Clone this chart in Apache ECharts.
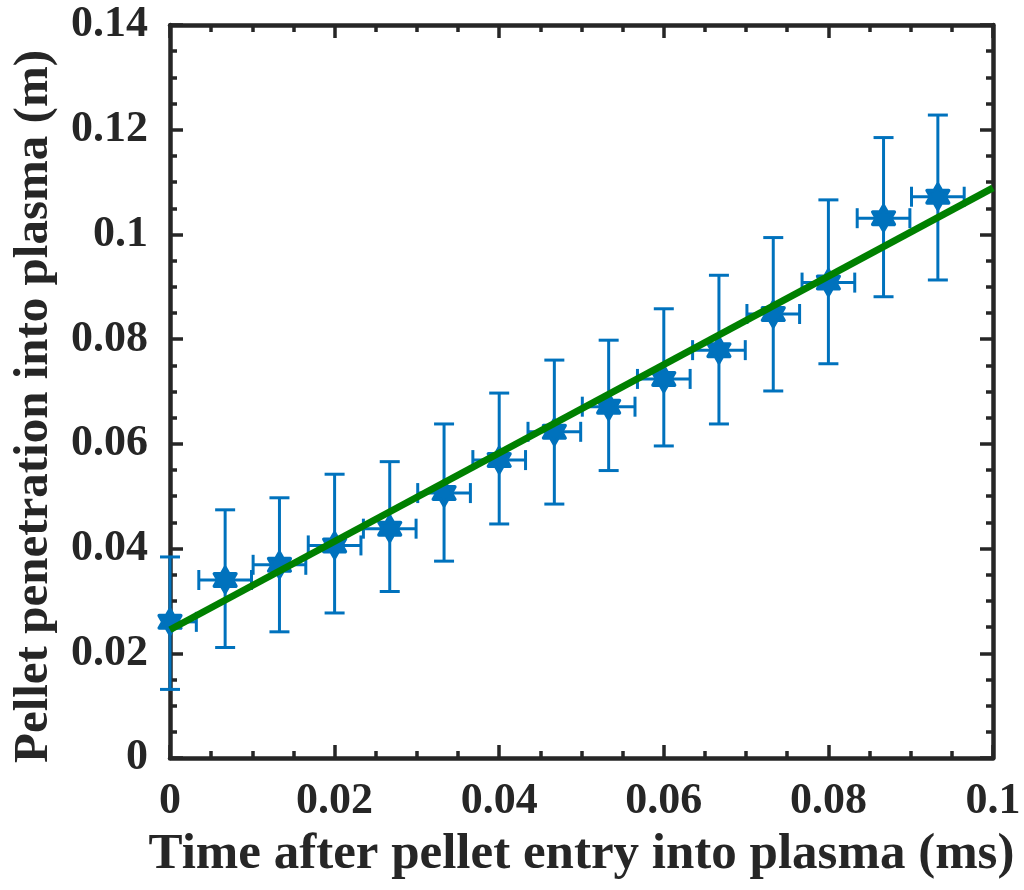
<!DOCTYPE html>
<html>
<head>
<meta charset="utf-8">
<script src="https://cdn.jsdelivr.net/npm/echarts@6/dist/echarts.min.js"></script>
<style>
html,body{margin:0;padding:0;background:#fff;}
#chart{width:1024px;height:890px;}
</style>
</head>
<body>
<div id="chart"></div>
<script>
// Time after pellet entry (ms)
const times = [0, 0.0067, 0.0133, 0.02, 0.0267, 0.0333, 0.04, 0.0467, 0.0533, 0.06, 0.0667, 0.0733, 0.08, 0.0867, 0.0933];
// Pellet penetration (m)
const penetration = [0.0260, 0.0340, 0.0369, 0.0406, 0.0438, 0.0506, 0.0569, 0.0623, 0.0671, 0.0724, 0.0779, 0.0848, 0.0908, 0.1031, 0.1072];
const penLower = [0.0131, 0.0211, 0.0241, 0.0277, 0.0318, 0.0376, 0.0447, 0.0485, 0.0549, 0.0596, 0.0638, 0.0701, 0.0753, 0.0881, 0.0913];
const penUpper = [0.0384, 0.0474, 0.0497, 0.0542, 0.0566, 0.0638, 0.0697, 0.0760, 0.0798, 0.0858, 0.0922, 0.0994, 0.1066, 0.1185, 0.1228];
const timeErr = [0.0032, 0.0032, 0.0032, 0.0032, 0.0032, 0.0032, 0.0032, 0.0032, 0.0032, 0.0032, 0.0032, 0.0032, 0.0032, 0.0032, 0.0032];
// Linear fit line endpoints
const fitX = [0, 0.1];
const fitY = [0.0245, 0.1089];
// Tick labels
const xTickValues = [0, 0.02, 0.04, 0.06, 0.08, 0.1];
const xTickLabels = ['0', '0.02', '0.04', '0.06', '0.08', '0.1'];
const yTickValues = [0, 0.02, 0.04, 0.06, 0.08, 0.1, 0.12, 0.14];
const yTickLabels = ['0', '0.02', '0.04', '0.06', '0.08', '0.1', '0.12', '0.14'];

const xTitle = 'Time after pellet entry into plasma (ms)';
const yTitle = 'Pellet penetration into plasma (m)';

function lookup(vals, labels, v) {
  for (let i = 0; i < vals.length; i++) if (Math.abs(vals[i] - v) < 1e-9) return labels[i];
  return '';
}

const FONT = '"Liberation Serif", "Times New Roman", serif';
const AX = '#262626';
const BLUE = '#0072BD';
const HEX = 'path://M100 0 L128.87 50 L186.6 50 L157.7 100 L186.6 150 L128.87 150 L100 200 L71.13 150 L13.4 150 L42.3 100 L13.4 50 L71.13 50 Z';

const errData = times.map((t, i) => [t, penetration[i], penLower[i], penUpper[i], t - timeErr[i], t + timeErr[i]]);
const ptData = times.map((t, i) => [t, penetration[i]]);
const fitData = fitX.map((x, i) => [x, fitY[i]]);

function baseAxis(extra) {
  return Object.assign({
    type: 'value',
    axisLine: { show: true, onZero: false, lineStyle: { color: AX, width: 4.5 } },
    axisTick: { show: true, inside: true, length: 13, lineStyle: { color: AX, width: 3.5 } },
    minorTick: { show: true, splitNumber: 4, length: 7, lineStyle: { color: AX, width: 3.5 } },
    splitLine: { show: false },
    minorSplitLine: { show: false }
  }, extra);
}

const chart = echarts.init(document.getElementById('chart'));
chart.setOption({
  animation: false,
  backgroundColor: '#fff',
  grid: { left: 170, right: 31, top: 25, bottom: 132, containLabel: false },
  xAxis: [
    baseAxis({
      position: 'bottom', min: 0, max: 0.1, interval: 0.02,
      axisLabel: { show: true, margin: 22, color: AX, fontFamily: FONT, fontWeight: 'bold', fontSize: 44,
        formatter: v => lookup(xTickValues, xTickLabels, v) },
      name: xTitle, nameLocation: 'middle', nameGap: 69,
      nameTextStyle: { color: AX, fontFamily: FONT, fontWeight: 'bold', fontSize: 51, verticalAlign: 'top' }
    }),
    baseAxis({ position: 'top', min: 0, max: 0.1, interval: 0.02, axisLabel: { show: false } })
  ],
  yAxis: [
    baseAxis({
      position: 'left', min: 0, max: 0.14, interval: 0.02,
      axisLabel: { show: true, margin: 22, color: AX, fontFamily: FONT, fontWeight: 'bold', fontSize: 44,
        formatter: v => lookup(yTickValues, yTickLabels, v) },
      name: yTitle, nameLocation: 'middle', nameGap: 111, nameRotate: 90,
      nameTextStyle: { color: AX, fontFamily: FONT, fontWeight: 'bold', fontSize: 49, padding: [0, 30, 0, 0] }
    }),
    baseAxis({ position: 'right', min: 0, max: 0.14, interval: 0.02, axisLabel: { show: false } })
  ],
  series: [
    {
      type: 'custom',
      name: 'errors',
      data: errData,
      z: 2,
      renderItem: function (params, api) {
        const cs = params.coordSys;
        const c = api.coord([api.value(0), api.value(1)]);
        const lo = api.coord([api.value(0), api.value(2)]);
        const hi = api.coord([api.value(0), api.value(3)]);
        let xl = api.coord([api.value(4), api.value(1)])[0];
        let xr = api.coord([api.value(5), api.value(1)])[0];
        const cap = 10;
        const st = { stroke: BLUE, lineWidth: 3, fill: null };
        const children = [
          { type: 'line', shape: { x1: c[0], y1: lo[1], x2: c[0], y2: hi[1] }, style: st },
          { type: 'line', shape: { x1: c[0] - cap, y1: lo[1], x2: c[0] + cap, y2: lo[1] }, style: st },
          { type: 'line', shape: { x1: c[0] - cap, y1: hi[1], x2: c[0] + cap, y2: hi[1] }, style: st }
        ];
        const leftIn = xl >= cs.x - 0.5;
        xl = Math.max(xl, cs.x);
        children.push({ type: 'line', shape: { x1: xl, y1: c[1], x2: xr, y2: c[1] }, style: st });
        if (leftIn) children.push({ type: 'line', shape: { x1: xl, y1: c[1] - cap, x2: xl, y2: c[1] + cap }, style: st });
        children.push({ type: 'line', shape: { x1: xr, y1: c[1] - cap, x2: xr, y2: c[1] + cap }, style: st });
        return { type: 'group', children: children };
      }
    },
    {
      type: 'scatter',
      name: 'data',
      data: ptData,
      symbol: HEX,
      symbolSize: 25,
      symbolKeepAspect: true,
      itemStyle: { color: BLUE, opacity: 1, borderColor: BLUE, borderWidth: 3.5, borderJoin: 'round' },
      z: 3
    },
    {
      type: 'line',
      name: 'fit',
      data: fitData,
      showSymbol: false,
      symbol: 'none',
      lineStyle: { color: '#008000', width: 7 },
      z: 4
    }
  ]
});
</script>
</body>
</html>
